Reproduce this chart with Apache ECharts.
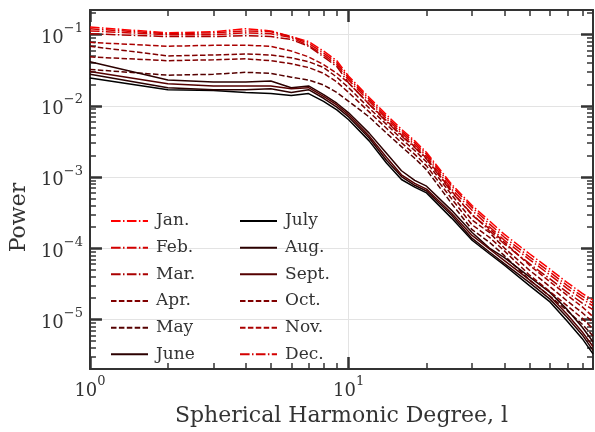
<!DOCTYPE html>
<html><head><meta charset="utf-8">
<script src="https://cdn.jsdelivr.net/npm/echarts@6/dist/echarts.min.js"></script>
<style>html,body{margin:0;padding:0;background:#fff}#c{width:595px;height:432px}</style>
</head><body><div id="c"></div>
<script>
const degrees = [1,2,3,4,5,6,7,8,9,10,12,14,16,18,20,25,30,35,40,50,60,70,80,88];
const jan  = [.128,.106,.110,.121,.113,.094,.080,.0589,.0431,.0261,.01315,.0075,.0047,.00323,.00222,.000794,.0004,.000243,.000157,8.4e-5,5.1e-5,3.3e-5,2.34e-5,1.88e-5];
const feb  = [.113,.100,.100,.106,.103,.091,.071,.0519,.038,.0231,.0116,.00662,.00415,.00285,.00196,.000679,.000342,.000201,.00013,6.97e-5,4.23e-5,2.73e-5,1.94e-5,1.56e-5];
const mar  = [.103,.094,.094,.097,.094,.0855,.0688,.0488,.0357,.021,.01057,.00603,.00378,.0026,.00179,.000618,.000302,.000177,.000115,6.1e-5,3.73e-5,2.41e-5,1.71e-5,1.38e-5];
const apr  = [.0688,.0503,.0519,.0536,.0519,.0473,.0418,.0346,.0253,.018,.00933,.0055,.00344,.00237,.00163,.000563,.00025,.000167,.000101,4.94e-5,2.9e-5,1.82e-5,1.25e-5,9.2e-6];
const may  = [.0325,.027,.0278,.0296,.0287,.0253,.0231,.0197,.0154,.0116,.007,.00415,.00268,.00184,.00127,.000426,.000183,.000122,7.9e-5,3.61e-5,2.13e-5,1.33e-5,8.6e-6,5.9e-6];
const jun  = [.0418,.0231,.0217,.0217,.0224,.018,.0191,.0144,.0109,.008,.00415,.00216,.00123,.0009,.000747,.000342,.000167,.000101,7.4e-5,3.97e-5,2.41e-5,1.38e-5,7.8e-6,4.9e-6];
const jul  = [.0246,.0169,.0164,.0154,.0149,.014,.0149,.0116,.0088,.0064,.00323,.00158,.000927,.000723,.0006,.000266,.00013,8.4e-5,5.8e-5,3.0e-5,1.77e-5,9.5e-6,5.4e-6,3.3e-6];
const aug  = [.0278,.018,.0169,.0169,.0174,.0154,.0169,.0128,.0096,.007,.00355,.00173,.00102,.000769,.000638,.000292,.000138,8.9e-5,6.1e-5,3.3e-5,1.94e-5,1.07e-5,6.1e-6,3.7e-6];
const sep  = [.0305,.0204,.0191,.0191,.0191,.0174,.018,.0136,.0103,.0075,.00378,.0019,.00108,.000819,.000679,.000311,.000152,9.8e-5,6.75e-5,3.61e-5,2.13e-5,1.18e-5,6.7e-6,4.2e-6];
const oct  = [.0488,.0431,.0444,.0458,.0431,.0392,.0346,.0287,.0217,.0154,.00824,.00485,.00304,.00209,.00144,.000497,.000214,.000143,9.2e-5,4.23e-5,2.48e-5,1.56e-5,1.04e-5,7.4e-6];
const nov  = [.078,.0688,.071,.071,.0688,.0589,.0488,.038,.0287,.021,.01057,.00622,.0039,.00268,.00184,.000638,.000292,.000189,.000122,5.8e-5,3.4e-5,2.19e-5,1.51e-5,1.1e-5];
const dec  = [.121,.103,.106,.113,.110,.094,.0755,.0553,.0404,.0246,.01236,.0070,.00442,.00304,.00209,.000747,.000376,.000221,.000143,7.6e-5,4.65e-5,3.0e-5,2.13e-5,1.71e-5];

const monthNames = ['Jan.','Feb.','Mar.','Apr.','May','June','July','Aug.','Sept.','Oct.','Nov.','Dec.'];
const monthData = [jan,feb,mar,apr,may,jun,jul,aug,sep,oct,nov,dec];
const monthColors = ['#ff0000','#d40000','#aa0000','#800000','#550000','#2b0000','#000000','#2b0000','#550000','#800000','#aa0000','#d40000'];
const monthStyle = ['dashdot','dashdot','dashdot','dashed','dashed','solid','solid','solid','solid','dashed','dashed','dashdot'];

const xMajor = [1, 10];
const yMajor = [1e-5, 1e-4, 1e-3, 1e-2, 1e-1];
const X_MIN = 1, X_MAX = 88, Y_MIN = 2.02e-6, Y_MAX = 0.222;

function minorTicks(lo, hi) {
  const out = [];
  for (let e = Math.floor(Math.log10(lo)); e <= Math.ceil(Math.log10(hi)); e++) {
    for (let m = 2; m <= 9; m++) {
      const v = m * Math.pow(10, e);
      if (v > lo && v < hi) out.push(v);
    }
  }
  return out;
}
const xMinor = minorTicks(X_MIN, X_MAX);
const yMinor = minorTicks(Y_MIN, Y_MAX);

const FONT = 'DejaVu Serif';
const INK = '#333333';
const dashMap = { solid: 'solid', dashed: [5.5, 2.4], dashdot: [9.6, 2.4, 1.5, 2.4] };

function fmt(v) {
  const e = Math.round(Math.log10(v));
  return '{b|10}{s|' + (e < 0 ? '\u2212' + (-e) : String(e)) + '}';
}
const rich = {
  b: { fontSize: 18, fontFamily: FONT, color: INK, lineHeight: 25, verticalAlign: 'bottom' },
  s: { fontSize: 13, fontFamily: FONT, color: INK, lineHeight: 15, verticalAlign: 'top' }
};

function axis(kind, pos, ticks, len, w, extra) {
  const isX = kind === 'x';
  return Object.assign({
    type: 'log', logBase: 10, position: pos,
    min: isX ? X_MIN : Y_MIN, max: isX ? X_MAX : Y_MAX,
    axisLine: { show: false, onZero: false },
    axisTick: { show: true, inside: true, length: len, customValues: ticks, lineStyle: { color: INK, width: w } },
    axisLabel: { show: false },
    splitLine: { show: false },
    minorTick: { show: false }, minorSplitLine: { show: false }
  }, extra || {});
}
const spine = { show: true, onZero: false, lineStyle: { color: INK, width: 2 } };

const xAxes = [
  axis('x', 'bottom', xMajor, 12, 2.5, {
    axisLine: spine,
    axisLabel: { show: true, customValues: xMajor, formatter: fmt, rich: rich, margin: 6 },
    splitLine: { show: true, lineStyle: { color: '#e3e3e3', width: 1 } },
    name: 'Spherical Harmonic Degree, l', nameLocation: 'middle', nameGap: 28,
    nameTextStyle: { fontFamily: FONT, fontSize: 22, color: INK }
  }),
  axis('x', 'top', xMajor, 12, 2.5, { axisLine: spine }),
  axis('x', 'bottom', xMinor, 6, 1.5),
  axis('x', 'top', xMinor, 6, 1.5)
];
const yAxes = [
  axis('y', 'left', yMajor, 12, 2.5, {
    axisLine: spine,
    axisLabel: { show: true, customValues: yMajor, formatter: fmt, rich: rich, margin: 7 },
    splitLine: { show: true, lineStyle: { color: '#e3e3e3', width: 1 } },
    name: 'Power', nameLocation: 'middle', nameGap: 55, nameRotate: 90,
    nameTextStyle: { fontFamily: FONT, fontSize: 22, color: INK, align: 'center', verticalAlign: 'bottom', padding: [0, 56, 0, 0] }
  }),
  axis('y', 'right', yMajor, 12, 2.5, { axisLine: spine }),
  axis('y', 'left', yMinor, 6, 1.5),
  axis('y', 'right', yMinor, 6, 1.5)
];

const series = monthNames.map((name, i) => ({
  name: name, type: 'line', xAxisIndex: 0, yAxisIndex: 0,
  data: degrees.map((l, k) => [l, monthData[i][k]]),
  showSymbol: false, symbol: 'none', smooth: false, animation: false,
  lineStyle: { color: monthColors[i], width: 1.5, type: dashMap[monthStyle[i]] },
  itemStyle: { color: monthColors[i] }
}));

const legendBase = {
  orient: 'vertical', itemWidth: 37, itemHeight: 20, itemGap: 6.67, top: 206,
  itemStyle: { opacity: 0 },
  textStyle: { fontFamily: FONT, fontSize: 17, color: INK, lineHeight: 20, padding: [0, 0, 0, 3] },
  selectedMode: false
};

const chart = echarts.init(document.getElementById('c'), null, { renderer: 'canvas' });
chart.setOption({
  animation: false,
  backgroundColor: '#ffffff',
  grid: { left: 88, right: 2, top: 10, bottom: 51, containLabel: false },
  xAxis: xAxes,
  yAxis: yAxes,
  legend: [
    Object.assign({}, legendBase, { left: 105, data: monthNames.slice(0, 6) }),
    Object.assign({}, legendBase, { left: 234, data: monthNames.slice(6) })
  ],
  series: series
});
</script></body></html>
